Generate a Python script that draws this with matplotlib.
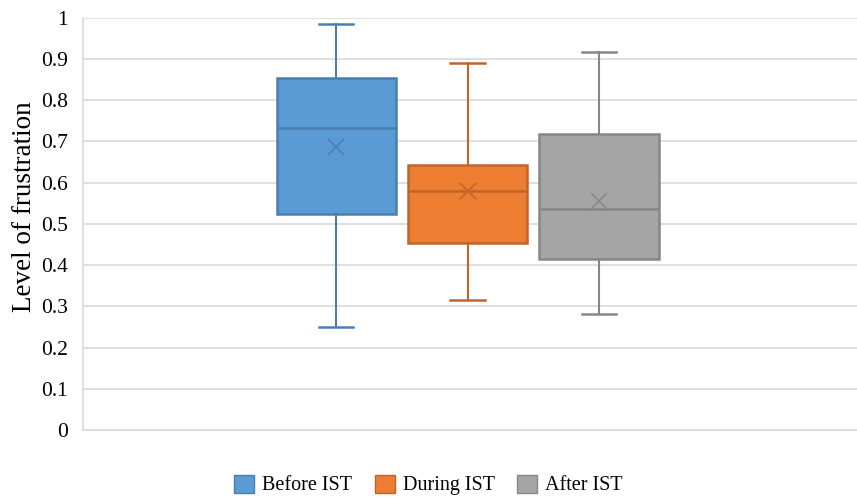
import matplotlib
matplotlib.use("Agg")
import matplotlib.pyplot as plt
from matplotlib.patches import Patch

series = ["Before IST", "During IST", "After IST"]
whisk_low = [0.250, 0.315, 0.281]
q1 = [0.524, 0.453, 0.415]
median = [0.732, 0.580, 0.537]
q3 = [0.854, 0.642, 0.719]
whisk_high = [0.984, 0.891, 0.917]
mean = [0.687, 0.580, 0.555]

fills = ["#5B9BD5", "#ED7D31", "#A5A5A5"]
edges = ["#4A7EB0", "#C0652A", "#878787"]

plt.rcParams['font.family'] = ['Liberation Serif', 'DejaVu Serif']

fig = plt.figure(figsize=(8.57, 4.97), dpi=100)
ax = fig.add_axes([83/857, 1-430/497, 1-83/857, (430-17.7)/497])

positions = [0, 1, 2]
for i in range(3):
    stats = [dict(med=median[i], q1=q1[i], q3=q3[i], whislo=whisk_low[i],
                  whishi=whisk_high[i], mean=mean[i], fliers=[], label=series[i])]
    ax.bxp(stats, positions=[positions[i]], widths=0.905, patch_artist=True,
           showmeans=True, showfliers=False,
           boxprops=dict(facecolor=fills[i], edgecolor=edges[i], linewidth=1.8),
           medianprops=dict(color=edges[i], linewidth=1.8),
           whiskerprops=dict(color=edges[i], linewidth=1.5),
           capprops=dict(color=edges[i], linewidth=1.8),
           capwidths=0.26,
           meanprops=dict(marker='x', markeredgecolor=edges[i], markersize=12,
                          markeredgewidth=1.2),
           zorder=3)

ax.set_xlim(-1.924, 3.962)
ax.set_ylim(0, 1)
ax.set_yticks([i/10 for i in range(11)])
ax.set_yticklabels(["0", "0.1", "0.2", "0.3", "0.4", "0.5", "0.6", "0.7", "0.8", "0.9", "1"])
ax.set_xticks([])
ax.tick_params(axis='y', length=0, labelsize=15.5, pad=11, colors='#000000')
ax.grid(axis='y', color='#D9D9D9', linewidth=1.2, zorder=0)
ax.set_axisbelow(True)
for s in ['top', 'right']:
    ax.spines[s].set_visible(False)
ax.spines['left'].set_color('#D9D9D9')
ax.spines['bottom'].set_color('#D9D9D9')
ax.spines['left'].set_linewidth(1.2)
ax.spines['bottom'].set_linewidth(1.2)
ax.set_ylabel("Level of frustration", fontsize=19.5)
ax.yaxis.set_label_coords(-(83-37)/774, 0.541)

handles = [Patch(facecolor=fills[i], edgecolor=edges[i], label=series[i]) for i in range(3)]
fig.legend(handles=handles, loc='center', bbox_to_anchor=(0.5, 1-485/497), ncol=3,
           frameon=False, fontsize=14.5, handlelength=1.0, handleheight=1.0,
           handletextpad=0.4, columnspacing=1.1)

fig.savefig("out.png", dpi=100)
